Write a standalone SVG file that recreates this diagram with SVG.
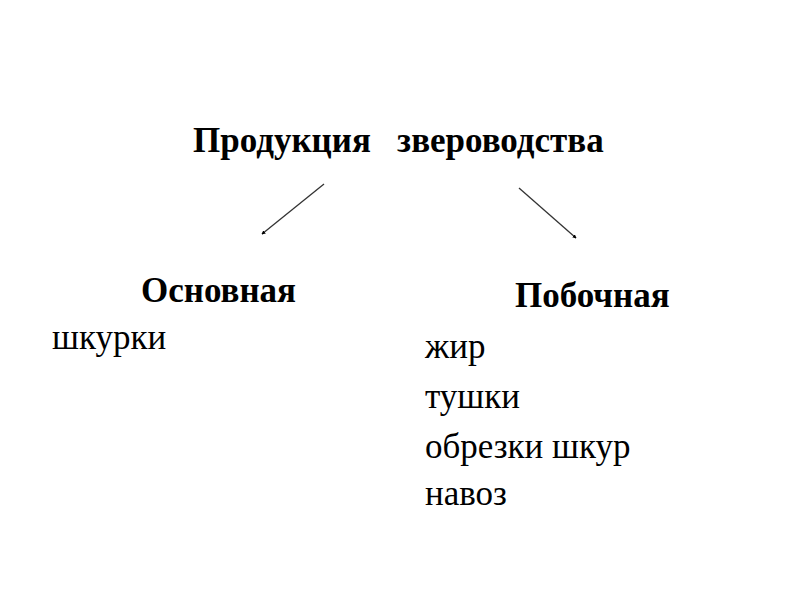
<svg xmlns="http://www.w3.org/2000/svg" width="800" height="600" viewBox="0 0 800 600">
<defs>
<style>
text{font-family:"Liberation Serif","Times New Roman",serif;fill:#000;font-size:35px}
.b{font-weight:bold}
.c{stroke:#333;stroke-width:1.3;fill:none;marker-end:url(#ah)}
</style>
<marker id="ah" viewBox="0 0 6 6" refX="5" refY="3" markerWidth="4" markerHeight="4" orient="auto" markerUnits="userSpaceOnUse">
<path d="M0,0 L6,3 L0,6 z" fill="#000"/>
</marker>
</defs>
<rect width="800" height="600" fill="#fff"/>
<g id="root"><text class="b" x="193" y="152" xml:space="preserve">Продукция   звероводства</text></g>
<g id="connectors">
<line class="c" x1="324" y1="184" x2="262" y2="234"/>
<line class="c" x1="519" y1="188" x2="576" y2="238"/>
</g>
<g id="main"><text class="b" x="141" y="302">Основная</text><text x="52" y="349">шкурки</text></g>
<g id="side"><text class="b" x="515" y="307">Побочная</text>
<text x="425" y="358">жир</text><text x="425" y="408">тушки</text><text x="425" y="458">обрезки шкур</text><text x="425" y="505">навоз</text></g>
</svg>
